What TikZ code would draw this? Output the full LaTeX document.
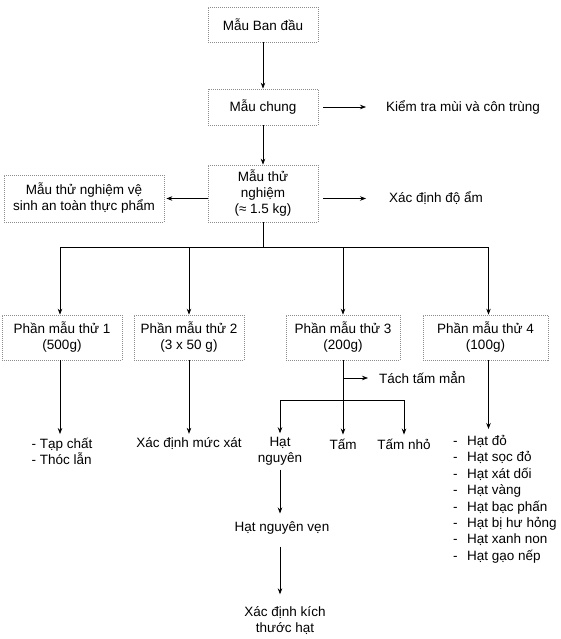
\documentclass[tikz,border=0pt]{standalone}
\usepackage{fontspec}
\setmainfont{Liberation Sans}
\usetikzlibrary{arrows.meta}
\newcommand\mainfnt{\fontsize{13.5}{16}\selectfont\lineskiplimit -8pt\relax}
\newcommand\listfnt{\fontsize{13.5}{16.4}\selectfont\lineskiplimit -8pt\relax}
\newcommand\dsh{\makebox[14pt][l]{-}}
\begin{document}
\begin{tikzpicture}[x=1pt,y=-1pt,
  every node/.style={font=\mainfnt, inner sep=0pt, align=center},
  box/.style={draw=black!45, dash pattern=on 1pt off 1pt, line width=0.7pt},
  arr/.style={-{Stealth[length=6pt,width=4.5pt]}, line width=0.7pt},
  ln/.style={line width=0.7pt}]
\useasboundingbox (0,0) rectangle (560,639);

% top column
\node[box, minimum width=110pt, minimum height=35pt] (b1) at (263,24.5) {Mẫu Ban đầu};
\node[box, minimum width=110pt, minimum height=36pt] (b2) at (263,107) {Mẫu chung};
\node[anchor=west] (kiem) at (386,107) {Kiểm tra mùi và côn trùng};
\node[box, minimum width=110pt, minimum height=57pt] (b3) at (263,193.5) {Mẫu thử\\nghiệm\\(≈ 1.5 kg)};
\node[box, minimum width=160pt, minimum height=47pt] (lb) at (84,198.5) {Mẫu thử nghiệm vệ\\sinh an toàn thực phẩm};
\node[anchor=west] (doam) at (389,198.5) {Xác định độ ẩm};

% sub-samples
\node[box, minimum width=120pt, minimum height=45pt] (p1) at (62,337.5) {Phần mẫu thử 1\\(500g)};
\node[box, minimum width=110pt, minimum height=45pt] (p2) at (189,337.5) {Phần mẫu thử 2\\(3 x 50 g)};
\node[box, minimum width=114pt, minimum height=45pt] (p3) at (343,337.5) {Phần mẫu thử 3\\(200g)};
\node[box, minimum width=125pt, minimum height=45pt] (p4) at (485.5,337.5) {Phần mẫu thử 4\\(100g)};

% results
\node[align=left] (t1) at (62,451.5) {- Tạp chất\\- Thóc lẫn};
\node (t2) at (189,444) {Xác định mức xát};
\node (t3) at (280,451.5) {Hạt\\nguyên};
\node (t4) at (343,444) {Tấm};
\node (t5) at (404,444) {Tấm nhỏ};
\node[anchor=north west, align=left, font=\listfnt] (t6) at (453,435)
  {\dsh Hạt đỏ\\\dsh Hạt sọc đỏ\\\dsh Hạt xát dối\\\dsh Hạt vàng\\\dsh Hạt bạc phấn\\\dsh Hạt bị hư hỏng\\\dsh Hạt xanh non\\\dsh Hạt gạo nếp};
\node[anchor=west] (tach) at (379,378) {Tách tấm mẳn};
\node (t7) at (282,528) {Hạt nguyên vẹn};
\node (t8) at (285,620.5) {Xác định kích\\thước hạt};

% connectors
\draw[arr] (b1) -- (b2);
\draw[arr] ([xshift=5pt]b2.east) -- ([xshift=-20pt]kiem.west);
\draw[arr] (b2) -- (b3);
\draw[arr, shorten >=2pt] (b3.west |- lb.east) -- (lb.east);
\draw[arr] ([xshift=5pt]b3.east |- doam.west) -- ([xshift=-23pt]doam.west);
\draw[ln] (b3.south) -- ++(0,25) coordinate (sp);
\draw[ln] ([xshift=-2pt]p1.north |- sp) -- ([xshift=3pt]p4.north |- sp);
\draw[arr] ([xshift=-2pt]p1.north |- sp) -- ([xshift=-2pt]p1.north);
\draw[arr] (p2.north |- sp) -- (p2.north);
\draw[arr] (p3.north |- sp) -- (p3.north);
\draw[arr] ([xshift=3pt]p4.north |- sp) -- ([xshift=3pt]p4.north);

\draw[arr, shorten >=4pt] ([xshift=-2pt]p1.south) -- ([xshift=-2pt]p1.south |- t1.north);
\draw[arr, shorten >=4pt] (p2.south) -- (p2.south |- t2.north);
\draw[arr, shorten >=6pt] ([xshift=3pt]p4.south) -- ([xshift=3pt]p4.south |- t6.north);

\coordinate (br) at (343,400);
\draw[ln] (p3.south) -- (br);
\draw[arr] (p3.south |- tach.west) -- ([xshift=-11pt]tach.west);
\draw[ln] (t3.north |- br) -- (t5.north |- br);
\draw[arr, shorten >=4pt] (t3.north |- br) -- (t3.north);
\draw[arr, shorten >=4pt] (t4.north |- br) -- (t4.north);
\draw[arr, shorten >=4pt] (t5.north |- br) -- (t5.north);

\draw[arr, shorten <=4pt, shorten >=8pt] (t3.south) -- (t3.south |- t7.north);
\draw[arr, shorten <=12pt, shorten >=12pt] (t3.south |- t7.south) -- (t3.south |- t8.north);
\end{tikzpicture}
\end{document}
